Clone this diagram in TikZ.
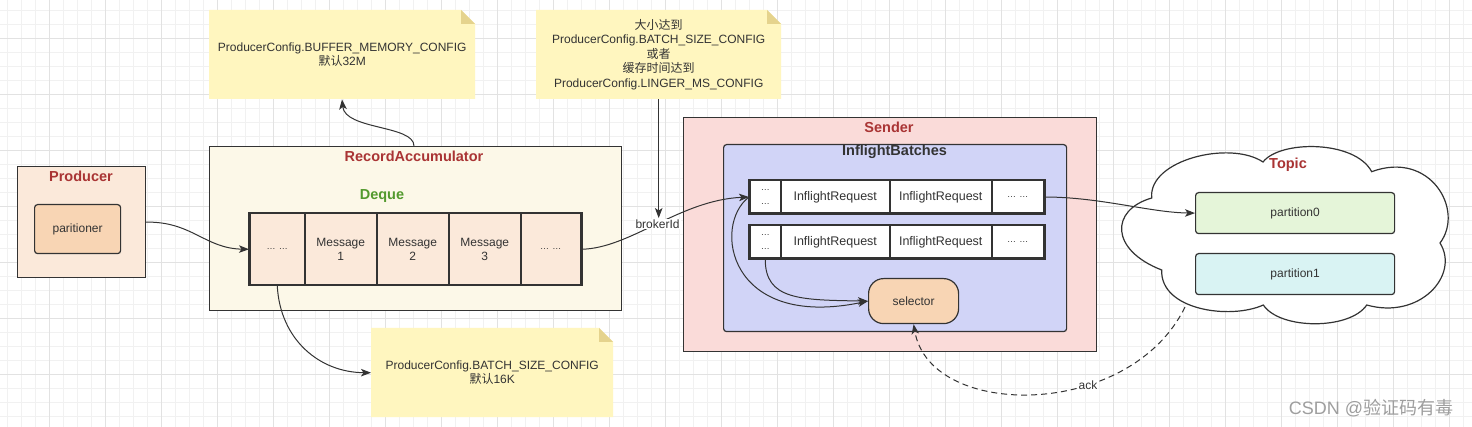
\documentclass[tikz,border=0pt]{standalone}
\usepackage{fontspec}
\setmainfont{Liberation Sans}
\newfontfamily\cjk{Noto Sans CJK SC}
\usetikzlibrary{arrows.meta}
\definecolor{linec}{HTML}{333333}
\definecolor{txt}{HTML}{333333}
\definecolor{prodfill}{HTML}{FBE9DA}
\definecolor{partfill}{HTML}{F8D5B4}
\definecolor{accfill}{HTML}{FCF8E8}
\definecolor{sendfill}{HTML}{FADBD9}
\definecolor{inflfill}{HTML}{D1D4F7}
\definecolor{pzfill}{HTML}{E5F5D9}
\definecolor{pofill}{HTML}{D9F3F3}
\definecolor{notefill}{HTML}{FFF6BF}
\definecolor{notefold}{HTML}{E5D38D}
\definecolor{titlered}{HTML}{A93434}
\definecolor{dequegreen}{HTML}{539A2E}
\definecolor{gridminor}{HTML}{F1F1F1}
\definecolor{gridmajor}{HTML}{E2E2E2}
\newcommand\mynote[4]{%
  \fill[notefill] (#1,#2) -- ({#3-14},#2) -- (#3,{#2+14}) -- (#3,#4) -- (#1,#4) -- cycle;
  \fill[notefold] ({#3-14},#2) -- ({#3-14},{#2+14}) -- (#3,{#2+14}) -- cycle;}
\newcommand\dd{{\fontsize{9}{10}\selectfont …}}
\begin{document}
\begin{tikzpicture}[x=1pt,y=-1pt,
  font=\fontsize{12}{14.5}\selectfont, text=txt,
  container/.style={draw=linec, line width=1.2pt, anchor=north west, inner sep=0pt},
  titletext/.style={font=\fontsize{14.5}{17}\selectfont\bfseries, text=titlered},
  dcell/.style={draw=linec, line width=1.5pt, fill=prodfill, anchor=north west, inner sep=0pt, minimum height=71pt, align=center},
  icell/.style={draw=linec, line width=1.5pt, fill=white, anchor=north west, inner sep=0pt, minimum height=32.5pt, align=center},
  notetext/.style={anchor=north west, inner sep=0pt, align=center},
  lbl/.style={fill=white, inner sep=1pt},
  arr/.style={draw=linec, line width=1pt, -{Stealth[length=10pt,width=7.5pt,inset=2.5pt]}},
  pbox/.style={draw=linec, line width=1.2pt, rounded corners=3pt, anchor=north west, inner sep=0pt, minimum width=199pt, minimum height=41pt}
]
\useasboundingbox (0,0) rectangle (1472,427);
\fill[white] (0,0) rectangle (1472,427);
% grid
\foreach \k in {0,...,104} {\draw[gridminor, line width=0.9pt] ({7.3+14*\k},0) -- ({7.3+14*\k},427);}
\foreach \k in {0,...,29} {\draw[gridminor, line width=0.9pt] (0,{10.7+14*\k}) -- (1472,{10.7+14*\k});}
\foreach \k in {0,...,25} {\draw[gridmajor, line width=0.9pt] ({49.3+56*\k},0) -- ({49.3+56*\k},427);}
\foreach \k in {0,...,6} {\draw[gridmajor, line width=0.9pt] (0,{38.7+56*\k}) -- (1472,{38.7+56*\k});}

% notes
\mynote{209}{10}{475}{99}
\node[notetext, minimum width=266pt, minimum height=89pt] (note1) at (209,10) {ProducerConfig.BUFFER\_MEMORY\_CONFIG\\{\cjk 默认}32M};
\mynote{536}{10}{781}{99}
\node[notetext, minimum width=245pt, minimum height=89pt] (note2) at (536,10) {{\cjk 大小达到}\\ProducerConfig.BATCH\_SIZE\_CONFIG\\{\cjk 或者}\\{\cjk 缓存时间达到}\\ProducerConfig.LINGER\_MS\_CONFIG};
\mynote{371}{328}{613}{417}
\node[notetext, minimum width=242pt, minimum height=89pt] (note3) at (371,328) {ProducerConfig.BATCH\_SIZE\_CONFIG\\{\cjk 默认}16K};

% producer
\node[container, fill=prodfill, minimum width=128pt, minimum height=111pt] (producer) at (17,166) {};
\node[titletext] (producerT) at (81,176) {Producer};
\node[container, fill=partfill, rounded corners=3pt, minimum width=86pt, minimum height=49pt] (partitioner) at (34,204) {};
\node at (partitioner.center) {paritioner};

% record accumulator
\node[container, fill=accfill, minimum width=412pt, minimum height=164pt] (recacc) at (209,146) {};
\node[titletext] (recaccT) at (414,156) {RecordAccumulator};
\node[font=\fontsize{14.5}{17}\selectfont\bfseries, text=dequegreen] (dequeT) at (382,196) {Deque};
\node[dcell, minimum width=55pt] (c0) at (249,213) {\dd\ \dd};
\node[dcell, minimum width=72pt] (c1) at (304,213) {Message\\1};
\node[dcell, minimum width=72pt] (c2) at (376,213) {Message\\2};
\node[dcell, minimum width=72pt] (c3) at (448,213) {Message\\3};
\node[dcell, minimum width=60pt] (c4) at (520,213) {\dd\ \dd};
\draw[linec, line width=2pt] (c0.north west) rectangle (c4.south east);

% sender
\node[container, fill=sendfill, minimum width=413pt, minimum height=234pt] (sender) at (683,117) {};
\node[titletext] (senderT) at (889,127) {Sender};
\node[container, fill=inflfill, rounded corners=3pt, minimum width=343pt, minimum height=187pt] (infl) at (723,144) {};
\node[font=\fontsize{14.5}{17}\selectfont\bfseries, text=txt] (inflT) at (894.5,152) {InflightBatches};
\node[icell, minimum width=31pt, font=\fontsize{9}{14}\selectfont] (r1c0) at (749,180) {…\\…};
\node[icell, minimum width=109pt, font=\fontsize{12.5}{15}\selectfont] (r1c1) at (780,180) {InflightRequest};
\node[icell, minimum width=102pt, font=\fontsize{12.5}{15}\selectfont] (r1c2) at (889,180) {InflightRequest};
\node[icell, minimum width=52pt] (r1c3) at (991,180) {\dd\ \dd};
\draw[linec, line width=2pt] (r1c0.north west) rectangle (r1c3.south east);
\node[icell, minimum width=31pt, font=\fontsize{9}{14}\selectfont] (r2c0) at (749,225) {…\\…};
\node[icell, minimum width=109pt, font=\fontsize{12.5}{15}\selectfont] (r2c1) at (780,225) {InflightRequest};
\node[icell, minimum width=102pt, font=\fontsize{12.5}{15}\selectfont] (r2c2) at (889,225) {InflightRequest};
\node[icell, minimum width=52pt] (r2c3) at (991,225) {\dd\ \dd};
\draw[linec, line width=2pt] (r2c0.north west) rectangle (r2c3.south east);
\node[container, fill=partfill, rounded corners=15pt, minimum width=90pt, minimum height=45pt] (selectorB) at (868,278) {};
\node (selector) at (selectorB.center) {selector};

% topic cloud
\draw[linec, line width=1.2pt, fill=white] (1151.7,198) .. controls (1148,160) and (1230,140) .. (1263,162)
  .. controls (1280,140) and (1355,140) .. (1371.7,171.7)
  .. controls (1430,150) and (1465,210) .. (1440,243)
  .. controls (1460,275) and (1420,320) .. (1366.7,305)
  .. controls (1350,330) and (1280,330) .. (1263.3,305)
  .. controls (1230,320) and (1160,310) .. (1161.7,270)
  .. controls (1110,250) and (1110,210) .. (1151.7,198) -- cycle;
\node[titletext] (topicT) at (1288,165) {Topic};
\node[pbox, fill=pzfill] (p0) at (1195,192) {partition0};
\node[pbox, fill=pofill] (p1) at (1195,253) {partition1};
\coordinate (cloudpt) at (1185,307);

% connectors
\draw[arr] (producer.east) .. controls (192,221.5) and (205,248.5) .. (c0.west);
\draw[arr] (recacc.north -| recaccT) .. controls (414,125) and (345,130) .. (note1.south -| 342,0);
\draw[arr] (c0.south) .. controls (280,340) and (320,372.5) .. (note3.west);
\draw[arr] (c4.east) .. controls (630,248.5) and (680,200) .. node[lbl, pos=0.5] (brokerId) {brokerId} (r1c0.west);
\draw[arr] (note2.south) -- (note2.south |- brokerId.north);
\draw[arr] (r1c0.west) .. controls (712,225) and (728,330) .. (selectorB.west);
\draw[arr] (r2c0.south) .. controls (765,300) and (800,300) .. (selectorB.west);
\draw[arr] (r1c3.east) .. controls (1100,197) and (1150,212.5) .. (p0.west);
\draw[arr, dash pattern=on 6pt off 4pt] (cloudpt) .. controls (1130,420) and (930,420) .. node[lbl, pos=0.35, inner sep=0.5pt] (ack) {ack} (selectorB.south);

% watermark
\node[text=black!38, font=\fontsize{18}{20}\selectfont] (wm) at (1371,408) {CSDN @{\cjk 验证码有毒}};
\end{tikzpicture}
\end{document}
